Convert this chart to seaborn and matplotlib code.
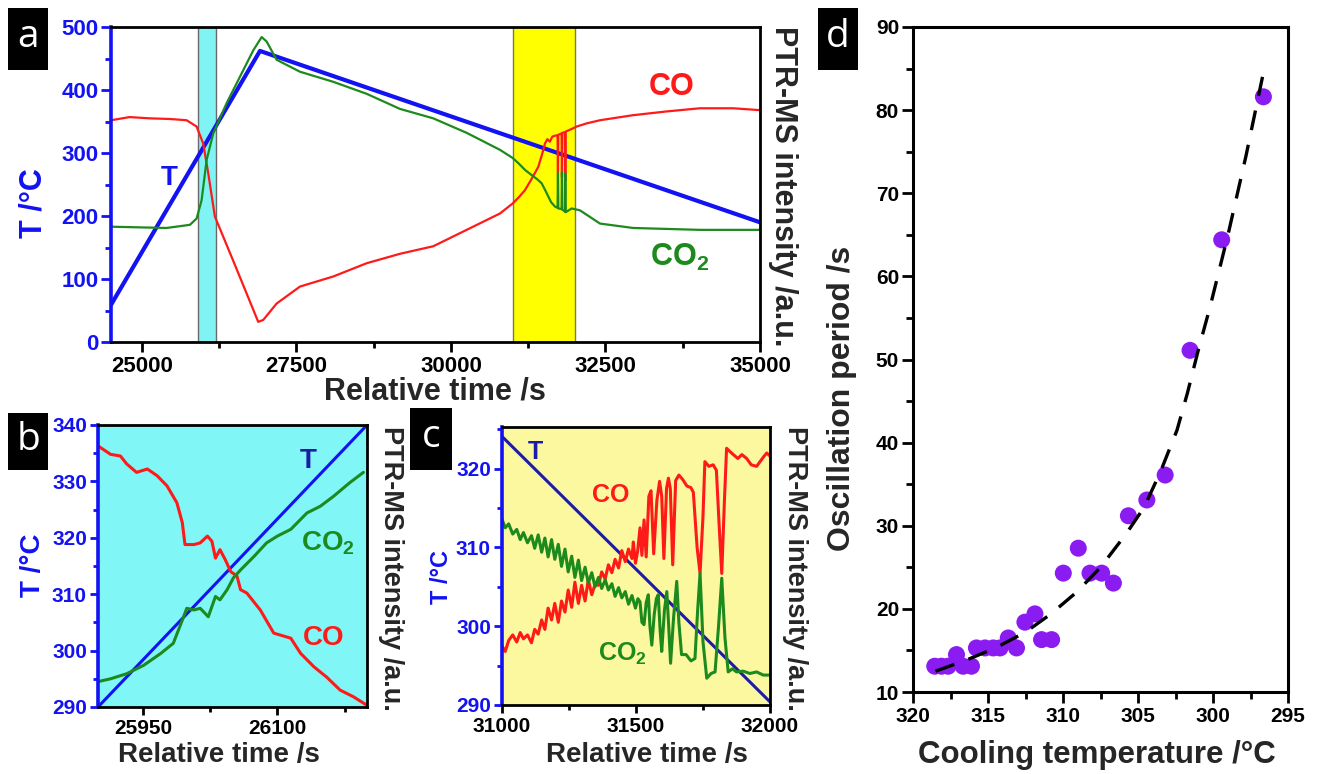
import seaborn as sns
import matplotlib.pyplot as plt
from matplotlib.ticker import MultipleLocator
from matplotlib.patches import Rectangle

sns.set_theme(style="ticks")
plt.rcParams['font.family'] = ['Liberation Sans', 'DejaVu Sans']
plt.rcParams['font.weight'] = 'bold'
plt.rcParams['mathtext.fontset'] = 'custom'
plt.rcParams['mathtext.rm'] = 'Liberation Sans:bold'
plt.rcParams['mathtext.bf'] = 'Liberation Sans:bold'

BLUE = '#1212f2'
NAVY = '#1c1ca8'
RED = '#ff1a1a'
GREEN = '#1d8a1d'
PURPLE = '#8a1cf2'

# ---------------- data ----------------
# zoom windows (panel b and c time ranges)
win_b = [25900, 26200]
win_c = [31000, 32000]

# panel a: full run
T_a_t = [24500, 26910, 35000]
T_a = [59, 462, 190]

co_a_t = [24500, 24800, 25129, 25450, 25723, 25885, 25992, 26073, 26181, 26477,
          26882, 26963, 27179, 27557, 28096, 28635, 29175, 29714, 30254, 30793,
          31000, 31100, 31197, 31300, 31413, 31480, 31521, 31560, 31600, 31640,
          31700, 31725, 31731, 31737, 31790, 31796, 31802, 31845, 31850, 31856,
          31950, 32034, 32195, 32411, 32945, 33490, 34029, 34568, 35000]
co_a = [352, 357, 355, 354, 352, 342, 315, 268, 199, 129,
        32, 35, 61, 88, 104, 125, 140, 152, 178, 204,
        220, 230, 241, 258, 278, 300, 315, 322, 318, 326,
        328, 327, 268, 329, 331, 262, 332, 333, 257, 334,
        338, 342, 347, 352, 360, 366, 371, 371, 368]

co2_a_t = [24500, 25399, 25777, 25885, 25966, 26047, 26154, 26370, 26586, 26802,
           26937, 27018, 27179, 27557, 28096, 28635, 29175, 29714, 30254, 30793,
           31000, 31089, 31200, 31305, 31400, 31467, 31530, 31575, 31620, 31683,
           31725, 31731, 31737, 31790, 31796, 31802, 31845, 31850, 31856, 31953,
           32087, 32411, 32945, 34029, 35000]
co2_a = [183, 181, 186, 196, 225, 289, 331, 379, 421, 463,
         484, 477, 448, 429, 413, 394, 370, 355, 332, 305,
         292, 284, 273, 265, 258, 252, 240, 231, 222, 215,
         213, 268, 212, 211, 270, 210, 207, 268, 206, 212,
         209, 188, 181, 178, 178]

# panel b: ignition window
T_b_t = [25900, 26200]
T_b = [290, 340]
co_b_t = [25900, 25914, 25925, 25932, 25943, 25955, 25966, 25977, 25988, 25994,
          25997, 26007, 26014, 26022, 26027, 26031, 26036, 26042, 26048, 26055,
          26059, 26066, 26081, 26096, 26115, 26126, 26141, 26155, 26170, 26185, 26200]
co_b = [336.3, 334.8, 334.5, 333.1, 331.6, 332.2, 331.0, 329.2, 326.2, 322.7,
        318.8, 318.8, 319.1, 320.3, 319.4, 316.4, 317.9, 316.1, 314.0, 313.2,
        310.8, 310.2, 307.2, 303.1, 302.2, 299.5, 297.1, 295.3, 293.0, 291.8, 290.3]
co2_b_t = [25900, 25914, 25932, 25951, 25970, 25984, 25994, 25999, 26007, 26014,
           26023, 26031, 26036, 26044, 26051, 26059, 26074, 26088, 26100, 26115,
           26133, 26148, 26163, 26181, 26196]
co2_b = [294.5, 295.0, 295.9, 297.4, 299.5, 301.3, 305.4, 307.5, 307.2, 307.5,
         306.0, 309.6, 309.0, 310.8, 312.9, 314.3, 316.7, 319.1, 320.3, 321.5,
         324.4, 325.6, 327.4, 329.8, 331.6]

# panel c: oscillation window
T_c_t = [31000, 32000]
T_c = [324.1, 290.4]
co_c_t = [31000, 31012, 31025, 31040, 31055, 31068, 31080, 31095, 31110, 31122,
          31135, 31148, 31160, 31172, 31185, 31197, 31210, 31222, 31235, 31247,
          31260, 31272, 31285, 31297, 31310, 31322, 31335, 31347, 31360, 31372,
          31385, 31397, 31410, 31422, 31435, 31447, 31460, 31472, 31485, 31490,
          31498, 31506, 31515, 31522, 31530, 31538, 31548, 31556, 31566, 31578,
          31588, 31596, 31604, 31614, 31621, 31628, 31637, 31648, 31660, 31675,
          31690, 31705, 31714, 31728, 31739, 31750, 31757, 31772, 31788, 31800,
          31810, 31820, 31830, 31838, 31850, 31863, 31880, 31895, 31913, 31930,
          31950, 31965, 31978, 31988, 32000]
co_c = [297.5, 296.8, 298.2, 298.9, 298.0, 299.2, 298.4, 298.9, 297.9, 299.6,
        299.0, 300.8, 299.6, 302.3, 300.8, 302.9, 300.5, 303.2, 301.8, 304.6,
        302.4, 305.6, 302.9, 305.2, 303.2, 305.9, 304.0, 305.3, 305.2, 306.9,
        306.0, 307.8, 306.8, 308.5, 307.4, 309.6, 308.2, 309.8, 308.6, 310.7,
        308.0, 309.5, 312.5, 309.0, 313.5, 308.8, 316.5, 317.2, 309.2, 316.0,
        318.4, 316.5, 308.6, 317.5, 318.8, 317.5, 307.8, 318.5, 319.2, 318.6,
        317.8, 317.6, 317.0, 310.0, 306.7, 314.0, 320.9, 320.3, 320.5, 319.8,
        313.0, 306.7, 316.0, 322.6, 322.2, 321.8, 321.3, 321.8, 321.3, 320.5,
        320.3, 321.0, 321.6, 322.0, 321.6]
co2_c_t = [31000, 31012, 31025, 31040, 31055, 31068, 31080, 31095, 31110, 31122,
           31135, 31148, 31160, 31172, 31185, 31197, 31210, 31222, 31235, 31247,
           31260, 31272, 31285, 31297, 31310, 31322, 31335, 31347, 31360, 31372,
           31385, 31397, 31410, 31422, 31435, 31447, 31460, 31472, 31485, 31498,
           31507, 31515, 31522, 31530, 31538, 31546, 31552, 31559, 31568, 31576,
           31583, 31590, 31596, 31606, 31615, 31622, 31629, 31640, 31652, 31660,
           31670, 31687, 31705, 31720, 31730, 31739, 31750, 31764, 31780, 31795,
           31808, 31820, 31832, 31844, 31860, 31875, 31900, 31925, 31950, 31975, 32000]
co2_c = [313.6, 312.5, 313.0, 311.7, 312.3, 311.0, 311.9, 310.6, 311.5, 309.9,
         311.6, 309.4, 311.2, 308.8, 311.0, 308.5, 310.4, 307.6, 309.8, 306.9,
         308.9, 306.2, 308.4, 305.8, 307.5, 305.5, 306.8, 305.0, 306.2, 304.8,
         305.9, 304.6, 305.4, 303.8, 304.9, 303.6, 304.4, 302.8, 303.9, 302.3,
         303.5, 303.1, 300.5, 300.2, 303.0, 304.0, 300.0, 297.6, 301.5, 303.5,
         304.0, 299.5, 296.8, 302.0, 304.4, 300.0, 295.3, 301.0, 305.7, 300.5,
         296.4, 296.4, 295.6, 295.9, 302.0, 306.7, 298.0, 293.4, 294.0, 294.2,
         300.0, 306.1, 298.5, 294.2, 294.6, 294.2, 294.3, 294.0, 294.2, 293.8, 293.8]

# panel d: oscillation period vs cooling temperature
cool_T = [318.55, 318.1, 317.66, 317.1, 316.66, 316.1, 315.77, 315.2, 314.65, 314.2,
          313.65, 313.1, 312.54, 311.87, 311.43, 310.76, 309.98, 308.98, 308.2, 307.42,
          306.64, 305.64, 304.41, 303.19, 301.53, 299.42, 296.64]
period = [13.1, 13.1, 13.1, 14.5, 13.1, 13.1, 15.3, 15.3, 15.3, 15.3,
          16.5, 15.3, 18.4, 19.4, 16.3, 16.3, 24.3, 27.3, 24.3, 24.3,
          23.1, 31.2, 33.1, 36.1, 51.1, 64.4, 81.6]
fit_T = [318.5, 316.5, 314.5, 312.5, 310.8, 309.1, 307.5, 305.8, 304.6, 303.5,
         302.4, 301.7, 301.0, 300.2, 299.0, 297.8, 296.7]
fit_P = [12.5, 13.8, 15.3, 17.2, 19.4, 22.0, 25.0, 29.0, 32.2, 36.5,
         41.5, 46.0, 51.0, 56.3, 65.0, 74.5, 84.0]

# ---------------- figure ----------------
W, H = 1325, 774
fig = plt.figure(figsize=(W / 100, H / 100), dpi=100)
fig.patch.set_facecolor('white')


def box(x0, y0, x1, y1):
    return [x0 / W, 1 - y1 / H, (x1 - x0) / W, (y1 - y0) / H]


def ftext(x, y, s, **kw):
    fig.text(x / W, 1 - y / H, s, ha='center', va='center', **kw)


def line(ax, x, y, color, lw, **kw):
    sns.lineplot(x=x, y=y, ax=ax, color=color, linewidth=lw,
                 estimator=None, sort=False, legend=False, **kw)


def style(ax, xmaj, xmin, ymaj, ymin, lsize, tlen, ycol=BLUE, left_lw=2.6):
    for s in ax.spines.values():
        s.set_visible(True)
        s.set_linewidth(2.0)
        s.set_color('black')
    ax.spines['left'].set_color(ycol)
    ax.spines['left'].set_linewidth(left_lw)
    ax.xaxis.set_major_locator(MultipleLocator(xmaj))
    ax.xaxis.set_minor_locator(MultipleLocator(xmin))
    ax.yaxis.set_major_locator(MultipleLocator(ymaj))
    ax.yaxis.set_minor_locator(MultipleLocator(ymin))
    ax.tick_params(axis='x', which='both', direction='out', color='black',
                   labelcolor='black', width=2, bottom=True, top=False,
                   labelsize=lsize, pad=3)
    ax.tick_params(axis='y', which='both', direction='out', color=ycol,
                   labelcolor=ycol, width=2, left=True, right=False,
                   labelsize=lsize, pad=2)
    ax.tick_params(which='major', length=tlen)
    ax.tick_params(which='minor', length=tlen * 0.6)
    ax.set_xlabel('')
    ax.set_ylabel('')
    ax.grid(False)


# ---- panel a ----
ax_a = fig.add_axes(box(111, 27, 760, 342))
ax_a.axvspan(*win_b, facecolor='#80f4f4', edgecolor='#6a6a6a', lw=1, zorder=0)
ax_a.axvspan(*win_c, facecolor='#ffff00', edgecolor='#7a7a50', lw=1, zorder=0)
line(ax_a, T_a_t, T_a, BLUE, 3.0)
line(ax_a, co_a_t, co_a, RED, 1.6)
line(ax_a, co2_a_t, co2_a, GREEN, 1.6)
ax_a.set_xlim(24500, 35000)
ax_a.set_ylim(0, 500)
style(ax_a, 2500, 1250, 100, 50, 16, 7)
ax_a.text(25437, 260, 'T', color=BLUE, fontsize=20, ha='center', va='center')
ax_a.text(33576, 405, 'CO', color=RED, fontsize=22, ha='center', va='center')
ax_a.text(33706, 135, 'CO$_{\\mathbf{2}}$', color=GREEN, fontsize=22, ha='center', va='center')
ftext(435, 391, 'Relative time /s', fontsize=22)
ftext(33, 203, 'T /°C', fontsize=22, color=BLUE, rotation=90)
ftext(783, 186, 'PTR-MS intensity /a.u.', fontsize=22, rotation=270)

# ---- panel b ----
ax_b = fig.add_axes(box(98, 425, 367, 707))
ax_b.set_facecolor('#80f6f6')
line(ax_b, T_b_t, T_b, BLUE, 2.2)
line(ax_b, co_b_t, co_b, RED, 2.2)
line(ax_b, co2_b_t, co2_b, GREEN, 2.2)
ax_b.set_xlim(*win_b)
ax_b.set_ylim(290, 340)
style(ax_b, 150, 75, 10, 5, 15, 6)
ax_b.text(26134, 333.6, 'T', color=NAVY, fontsize=20, ha='center', va='center')
ax_b.text(26157, 319.1, 'CO$_{\\mathbf{2}}$', color=GREEN, fontsize=20, ha='center', va='center')
ax_b.text(26152, 302.2, 'CO', color=RED, fontsize=20, ha='center', va='center')
ftext(219, 755, 'Relative time /s', fontsize=20)
ftext(33, 565, 'T /°C', fontsize=20, color=BLUE, rotation=90)
ftext(391, 568, 'PTR-MS intensity /a.u.', fontsize=19.5, rotation=270)

# ---- panel c ----
ax_c = fig.add_axes(box(502, 427, 770, 705))
ax_c.set_facecolor('#fcf8a0')
line(ax_c, T_c_t, T_c, NAVY, 2.2)
line(ax_c, co_c_t, co_c, RED, 2.2)
line(ax_c, co2_c_t, co2_c, GREEN, 2.2)
ax_c.set_xlim(*win_c)
ax_c.set_ylim(290, 325.3)
style(ax_c, 500, 250, 10, 5, 15, 6)
ax_c.text(31123, 322.1, 'T', color=NAVY, fontsize=18, ha='center', va='center')
ax_c.text(31407, 316.7, 'CO', color=RED, fontsize=18, ha='center', va='center')
ax_c.text(31448, 296.5, 'CO$_{\\mathbf{2}}$', color=GREEN, fontsize=18, ha='center', va='center')
ftext(647, 755, 'Relative time /s', fontsize=20)
ftext(441, 577, 'T /°C', fontsize=17, color=BLUE, rotation=90)
ftext(795, 568, 'PTR-MS intensity /a.u.', fontsize=19.5, rotation=270)

# ---- panel d ----
ax_d = fig.add_axes(box(913, 27, 1288, 692))
sns.scatterplot(x=cool_T, y=period, ax=ax_d, s=150, color=PURPLE,
                edgecolor='none', zorder=2, legend=False)
line(ax_d, fit_T, fit_P, 'black', 2.4, linestyle=(0, (6, 4.5)), zorder=3)
ax_d.set_xlim(320, 295)
ax_d.set_ylim(10, 90)
style(ax_d, 5, 2.5, 10, 5, 15, 8, ycol='black', left_lw=2.2)
for s in ax_d.spines.values():
    s.set_linewidth(2.2)
ftext(1097, 755, 'Cooling temperature /°C', fontsize=22.5)
ftext(842, 398, 'Oscillation period /s', fontsize=23, rotation=90)

# ---- panel letters ----
for (x0, y0, x1, y1), letter in [((8, 8, 48, 70), 'a'), ((8, 413, 48, 470), 'b'),
                                  ((410, 408, 452, 470), 'c'), ((818, 8, 858, 70), 'd')]:
    fig.patches.append(Rectangle((x0 / W, 1 - y1 / H), (x1 - x0) / W, (y1 - y0) / H,
                                 transform=fig.transFigure, facecolor='black',
                                 edgecolor='none'))
    ftext((x0 + x1) / 2, (y0 + y1) / 2 - 2, letter, fontsize=28, color='white',
          fontweight='normal', family=['Open Sans', 'DejaVu Sans'])

fig.savefig('out.png', dpi=100)
